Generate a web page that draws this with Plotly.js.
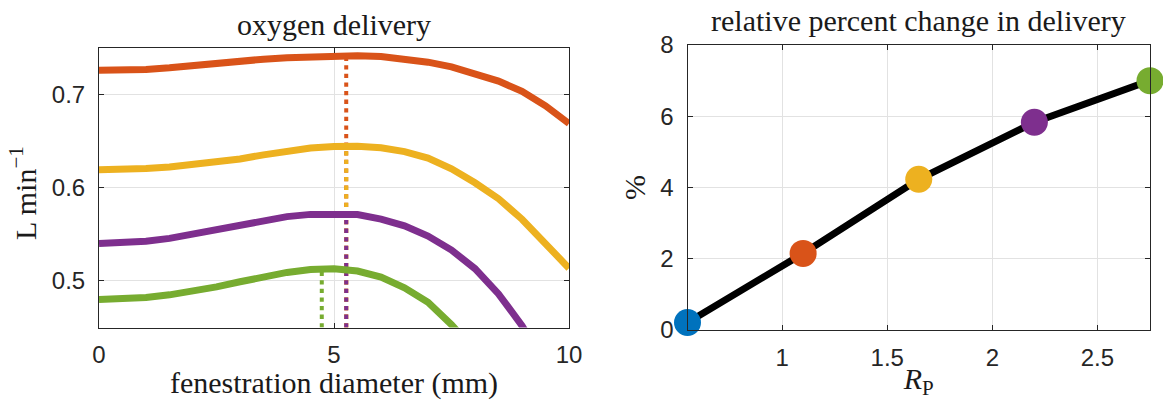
<!DOCTYPE html>
<html>
<head>
<meta charset="utf-8">
<script src="https://cdn.plot.ly/plotly-3.0.1.min.js"></script>
<style>
html,body{margin:0;padding:0;background:#fff;}
#chart{width:1163px;height:400px;}
</style>
</head>
<body>
<div id="chart"></div>
<script>
// ---- data ----
const diameter = [0,0.5,1,1.5,2,2.5,3,3.5,4,4.5,5,5.5,6,6.5,7,7.5,8,8.5,9,9.5,10];
const deliveryOrange = [0.7255,0.7257,0.7265,0.7282,0.7308,0.7333,0.7356,0.7375,0.7390,0.7402,0.7410,0.7412,0.7403,0.7381,0.7343,0.7292,0.7225,0.7140,0.7030,0.6875,0.6685];
const deliveryYellow = [0.6190,0.6193,0.6203,0.6220,0.6243,0.6270,0.6305,0.6350,0.6392,0.6424,0.6440,0.6442,0.6425,0.6385,0.6315,0.6200,0.6050,0.5880,0.5660,0.5400,0.5135];
const deliveryPurple = [0.5400,0.5405,0.5425,0.5455,0.5500,0.5555,0.5608,0.5652,0.5688,0.5712,0.5720,0.5710,0.5662,0.5590,0.5480,0.5330,0.5130,0.4860,0.4520,0.4100];
const deliveryGreen  = [0.4800,0.4805,0.4822,0.4850,0.4885,0.4935,0.4990,0.5045,0.5090,0.5122,0.5130,0.5105,0.5040,0.4925,0.4770,0.4530,0.4250];
const optimalDiameter = [5.26,5.26,5.26,4.74];
const optimalDelivery = [0.7412,0.6442,0.5720,0.5132];
const deliveryFloor = 0.45;

const rp = [0.55,1.1,1.65,2.2,2.75];
const pctChange = [0.21,2.15,4.23,5.83,7.0];

const curveColors = ['#D95319','#EDB120','#7E2F8E','#77AC30'];
const pointColors = ['#0072BD','#D95319','#EDB120','#7E2F8E','#77AC30'];

const xTicksLeft = [0,5,10];
const yTicksLeft = [0.5,0.6,0.7];
const xTicksRight = [1,1.5,2,2.5];
const yTicksRight = [0,2,4,6,8];

// ---- traces ----
const curves = [deliveryOrange, deliveryYellow, deliveryPurple, deliveryGreen];
const traces = [];
optimalDiameter.forEach((d,i)=>{
  traces.push({x:[d,d], y:[deliveryFloor, optimalDelivery[i]], mode:'lines', xaxis:'x', yaxis:'y',
    line:{color:curveColors[i], width:4, dash:'4.3px,4.3px'}, hoverinfo:'skip', showlegend:false});
});
curves.forEach((c,i)=>{
  traces.push({x:diameter.slice(0,c.length), y:c, mode:'lines', xaxis:'x', yaxis:'y',
    line:{color:curveColors[i], width:7}, showlegend:false});
});
traces.push({x:rp, y:pctChange, mode:'lines', xaxis:'x2', yaxis:'y2',
  line:{color:'#000000', width:7}, showlegend:false, cliponaxis:false});
traces.push({x:rp, y:pctChange, mode:'markers', xaxis:'x2', yaxis:'y2',
  marker:{color:pointColors, size:27, line:{width:0}}, showlegend:false, cliponaxis:false});

const axisColor = '#262626';
const tickFont = {family:'Liberation Sans, Arial, sans-serif', size:24, color:axisColor};
const serif = 'Liberation Serif, Times New Roman, serif';
const titleFont = {family:serif, size:30, color:'#1a1a1a'};

function axisBase(extra){
  return Object.assign({
    showline:true, mirror:'ticks', linecolor:axisColor, linewidth:1,
    ticks:'inside', ticklen:5, tickcolor:axisColor, tickwidth:1,
    showgrid:true, gridcolor:'#e2e2e2', gridwidth:1, zeroline:false,
    tickfont:tickFont, automargin:false, fixedrange:true
  }, extra);
}

const layout = {
  width:1163, height:400,
  margin:{l:0,r:0,t:0,b:0},
  paper_bgcolor:'#ffffff', plot_bgcolor:'#ffffff',
  showlegend:false,
  xaxis: axisBase({domain:[99/1163, 569/1163], range:[0,10], tickvals:xTicksLeft, ticklabelstandoff:6,
    title:{text:'fenestration diameter (mm)', font:titleFont, standoff:3}, anchor:'y'}),
  yaxis: axisBase({domain:[1-327.5/400, 1-47.5/400], range:[0.45,0.75], tickvals:yTicksLeft, ticktext:['0.5','0.6','0.7'], ticklabelstandoff:8, anchor:'x'}),
  xaxis2: axisBase({domain:[687.5/1163, 1150/1163], range:[0.55,2.75], tickvals:xTicksRight, ticklabelstandoff:6,
    title:{text:'<i>R</i><sub>P</sub>', font:titleFont, standoff:7}, anchor:'y2'}),
  yaxis2: axisBase({domain:[1-330/400, 1-45/400], range:[0,8], tickvals:yTicksRight, ticklabelstandoff:8,
    title:{text:'%', font:titleFont, standoff:5}, anchor:'x2'}),
  annotations:[
    {text:'oxygen delivery', xref:'paper', yref:'paper', x:334/1163, y:1-24/400, xanchor:'center', yanchor:'middle', showarrow:false, font:titleFont},
    {text:'relative percent change in delivery', xref:'paper', yref:'paper', x:918/1163, y:1-20/400, xanchor:'center', yanchor:'middle', showarrow:false, font:titleFont},
    {text:'L min<sup>−1</sup>', xref:'paper', yref:'paper', x:23/1163, y:1-193/400, xanchor:'center', yanchor:'middle', textangle:-90, showarrow:false, font:titleFont}
  ]
};

Plotly.newPlot('chart', traces, layout, {displayModeBar:false, staticPlot:true});
</script>
</body>
</html>
